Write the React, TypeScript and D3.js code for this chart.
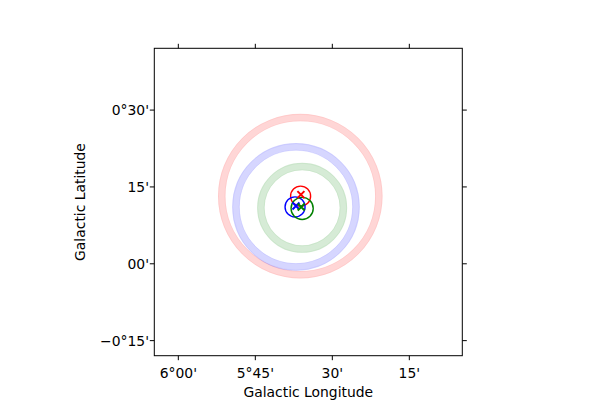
import React from 'react';
import * as d3 from 'd3';

// galactic coordinates in degrees
const lonTicks = [6.0, 5.75, 5.5, 5.25];
const lonTickLabels = ["6°00'", "5°45'", "30'", "15'"];
const latTicks = [0.5, 0.25, 0.0, -0.25];
const latTickLabels = ["0°30'", "15'", "00'", "\u22120°15'"];

// big translucent rings (regions)
const ringColors = ['red', 'blue', 'green'];
const ringLon = [5.604, 5.618, 5.598];
const ringLat = [0.220, 0.185, 0.182];
const ringRadius = [0.255, 0.195, 0.134];

// small error circles
const circleLon = [5.603, 5.621, 5.598];
const circleLat = [0.220, 0.185, 0.180];
const circleRadius = [0.0325, 0.0325, 0.036];

// cross markers
const crossLon = [5.602, 5.618, 5.601];
const crossLat = [0.225, 0.188, 0.185];

const W = 600;
const H = 400;
const frame = { left: 154.3, right: 462.3, top: 48.3, bottom: 355.7 };

export default function App() {
  const x = d3.scaleLinear().domain([6.078, 5.078]).range([frame.left, frame.right]);
  const y = d3.scaleLinear().domain([0.701, -0.299]).range([frame.top, frame.bottom]);
  const rpx = (lon: number, r: number) => Math.abs(x(lon + r) - x(lon));
  const font = '"DejaVu Sans", sans-serif';
  const fs = 13.9;
  const tick = 4.5;
  const band = 7.5;

  return (
    <div style={{ position: 'absolute', left: 0, top: 0 }}>
      <svg width={W} height={H} style={{ display: 'block', background: '#fff' }}>
        {ringColors.map((c, i) => {
          const cx = x(ringLon[i]);
          const cy = y(ringLat[i]);
          const r = rpx(ringLon[i], ringRadius[i]);
          return (
            <g key={'ring' + i}>
              <circle cx={cx} cy={cy} r={r} fill="none" stroke={c} strokeOpacity={0.16} strokeWidth={band} />
              <circle cx={cx} cy={cy} r={r - band / 2 + 0.5} fill="none" stroke={c} strokeOpacity={0.06} strokeWidth={1} />
              <circle cx={cx} cy={cy} r={r + band / 2 - 0.5} fill="none" stroke={c} strokeOpacity={0.06} strokeWidth={1} />
            </g>
          );
        })}
        {ringColors.map((c, i) => (
          <circle key={'c' + i} cx={x(circleLon[i])} cy={y(circleLat[i])} r={rpx(circleLon[i], circleRadius[i])}
            fill="none" stroke={c} strokeWidth={1.4} />
        ))}
        {ringColors.map((c, i) => {
          const cx = x(crossLon[i]);
          const cy = y(crossLat[i]);
          const s = 3.5;
          return (
            <path key={'x' + i} d={`M${cx - s},${cy - s}L${cx + s},${cy + s}M${cx - s},${cy + s}L${cx + s},${cy - s}`}
              stroke={c} strokeWidth={2} fill="none" />
          );
        })}

        <rect x={frame.left} y={frame.top} width={frame.right - frame.left} height={frame.bottom - frame.top}
          fill="none" stroke="#000" strokeWidth={1} />

        {lonTicks.map((v, i) => (
          <g key={'lt' + i}>
            <line x1={x(v)} x2={x(v)} y1={frame.bottom} y2={frame.bottom + tick} stroke="#000" strokeWidth={1} />
            <line x1={x(v)} x2={x(v)} y1={frame.top} y2={frame.top - tick} stroke="#000" strokeWidth={1} />
            <text x={x(v)} y={377.7} textAnchor="middle" fontFamily={font} fontSize={fs}>{lonTickLabels[i]}</text>
          </g>
        ))}
        {latTicks.map((v, i) => (
          <g key={'bt' + i}>
            <line x1={frame.left} x2={frame.left - tick} y1={y(v)} y2={y(v)} stroke="#000" strokeWidth={1} />
            <line x1={frame.right} x2={frame.right + tick} y1={y(v)} y2={y(v)} stroke="#000" strokeWidth={1} />
            <text x={149} y={y(v)} dy="0.36em" textAnchor="end" fontFamily={font} fontSize={fs}>{latTickLabels[i]}</text>
          </g>
        ))}

        <text x={(frame.left + frame.right) / 2} y={397} textAnchor="middle" fontFamily={font} fontSize={fs}>Galactic Longitude</text>
        <text transform={`translate(85,${(frame.top + frame.bottom) / 2}) rotate(-90)`} textAnchor="middle"
          fontFamily={font} fontSize={fs}>Galactic Latitude</text>
      </svg>
    </div>
  );
}
